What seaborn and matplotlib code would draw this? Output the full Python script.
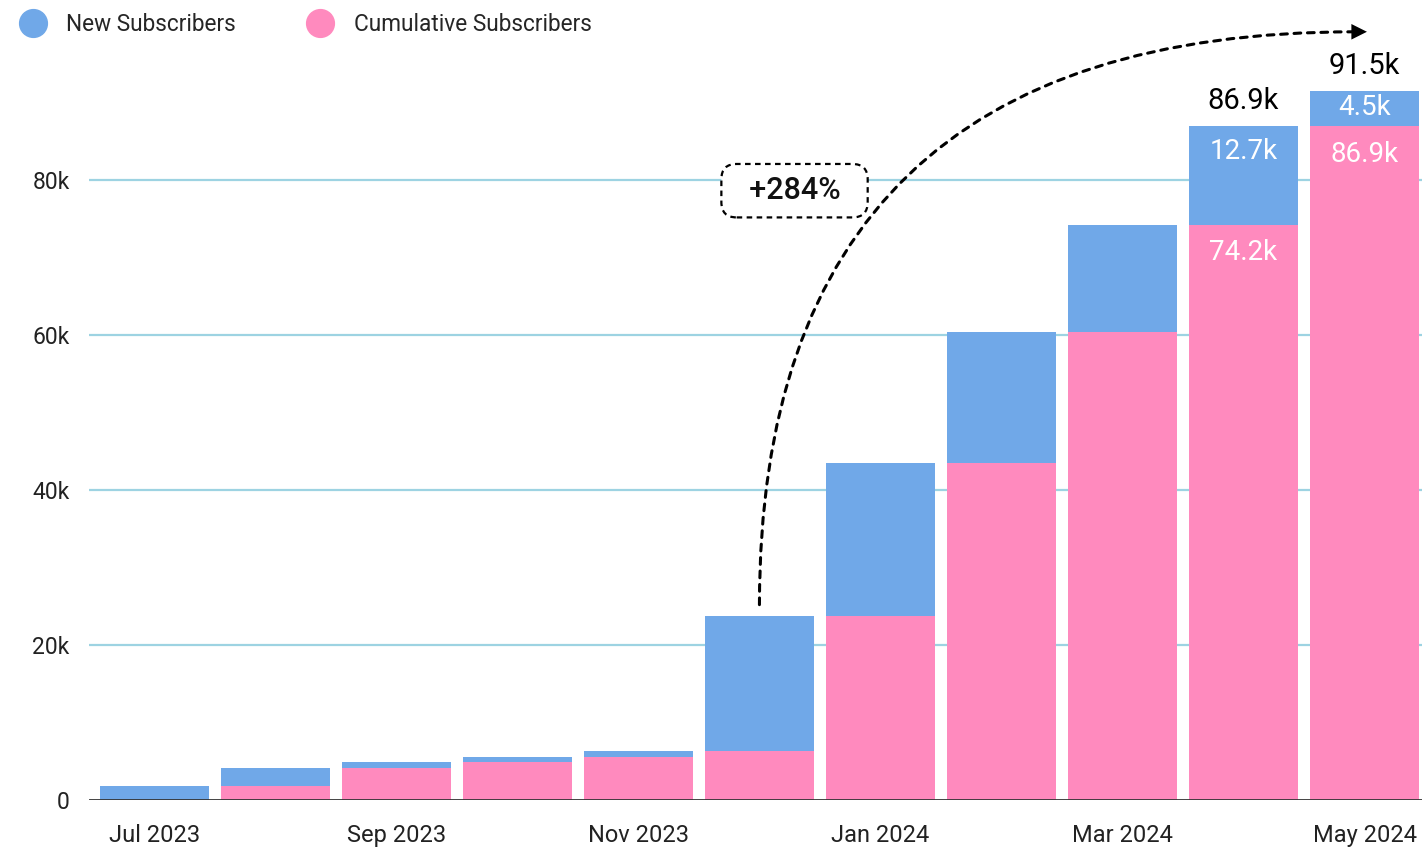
import matplotlib
matplotlib.use("Agg")
import matplotlib.pyplot as plt
import seaborn as sns
import pandas as pd
from matplotlib.lines import Line2D

# data (thousands of subscribers)
months = ["Jul 2023", "Aug 2023", "Sep 2023", "Oct 2023", "Nov 2023", "Dec 2023",
          "Jan 2024", "Feb 2024", "Mar 2024", "Apr 2024", "May 2024"]
cumulative = [0, 1.8, 4.1, 4.9, 5.5, 6.3, 23.7, 43.5, 60.4, 74.2, 86.9]
new_subs = [1.8, 2.3, 0.8, 0.6, 0.8, 17.4, 19.8, 16.9, 13.8, 12.7, 4.5]
total_labels = {9: "86.9k", 10: "91.5k"}
new_labels = {9: "12.7k", 10: "4.5k"}
cum_labels = {9: "74.2k", 10: "86.9k"}
growth_text = "+284%"

BLUE = "#70A8E8"
PINK = "#FF8ABE"
GRID = "#9DD3E2"

df = pd.DataFrame({"month": months, "cumulative": cumulative, "new": new_subs})
df["total"] = df["cumulative"] + df["new"]

sns.set_theme(style="white")
plt.rcParams["font.family"] = ["Roboto", "DejaVu Sans"]

fig = plt.figure(figsize=(14.22, 8.49), dpi=100)
ax = fig.add_axes([89 / 1422, 49 / 849, 1333 / 1422, 800 / 849])

# stacked bars: total in blue, cumulative in pink on top of it
sns.barplot(data=df, x="month", y="total", color=BLUE, width=0.9,
            saturation=1, linewidth=0, ax=ax, zorder=2)
sns.barplot(data=df, x="month", y="cumulative", color=PINK, width=0.9,
            saturation=1, linewidth=0, ax=ax, zorder=3)

ax.set_xlim(-0.54, 10.475)
ax.set_ylim(0, 103.2)
ax.set_yticks([0, 20, 40, 60, 80])
ax.set_yticklabels(["0", "20k", "40k", "60k", "80k"], fontsize=16.5, color="#222222")
ax.set_xticks(range(0, 11, 2))
ax.set_xticklabels([months[i] for i in range(0, 11, 2)], fontsize=17, color="#222222")
ax.tick_params(axis="both", length=0)
ax.tick_params(axis="x", pad=17)
ax.tick_params(axis="y", pad=14)
ax.set_xlabel("")
ax.set_ylabel("")
for s in ax.spines.values():
    s.set_visible(False)
for y in [20, 40, 60, 80]:
    ax.axhline(y, color=GRID, lw=1.6, zorder=1)
ax.axhline(0, color="#333333", lw=2, zorder=4)

# labels on the last two bars
for i, t in total_labels.items():
    ax.annotate(t, (i, df["total"][i]), xytext=(0, 18), textcoords="offset points",
                ha="center", va="center", fontsize=21, color="black", zorder=6)
for i, t in new_labels.items():
    if i == 10:
        ax.text(i, (df["cumulative"][i] + df["total"][i]) / 2 + 0.2, t, ha="center",
                va="center", fontsize=20, color="white", zorder=6)
    else:
        ax.annotate(t, (i, df["total"][i]), xytext=(0, -18), textcoords="offset points",
                    ha="center", va="center", fontsize=20, color="white", zorder=6)
for i, t in cum_labels.items():
    ax.annotate(t, (i, df["cumulative"][i]), xytext=(0, -20), textcoords="offset points",
                ha="center", va="center", fontsize=20, color="white", zorder=6)

# growth arrow from Dec bar to May bar
start = (5, 25.2)
end = (10, 99.1)
ax.annotate("", xy=(end[0] - 0.08, end[1]), xytext=start,
            arrowprops=dict(arrowstyle="-", connectionstyle="angle3,angleA=90,angleB=0",
                            color="black", lw=2.2, linestyle=(0, (2.2, 2.2)),
                            shrinkA=0, shrinkB=0), zorder=7)
ax.annotate("", xy=(end[0] + 0.02, end[1]), xytext=(end[0] - 0.1, end[1]),
            arrowprops=dict(arrowstyle="-|>", mutation_scale=28, color="black", lw=0,
                            shrinkA=0, shrinkB=0), zorder=7)

ax.text(5.29, 78.6, "  " + growth_text + "  ", ha="center", va="center", fontsize=22,
        fontweight="medium", color="#111111", zorder=8,
        bbox=dict(boxstyle="round,pad=0.4,rounding_size=0.5", fc="white",
                  ec="black", lw=1.6, ls=(0, (2.5, 2))))

# legend
handles = [Line2D([0], [0], marker="o", ls="", markersize=20, markerfacecolor=BLUE,
                  markeredgecolor=BLUE, label="New Subscribers"),
           Line2D([0], [0], marker="o", ls="", markersize=20, markerfacecolor=PINK,
                  markeredgecolor=PINK, label="Cumulative Subscribers")]
fig.legend(handles=handles, loc="upper left", bbox_to_anchor=(-0.001, 1.009), ncol=2,
           frameon=False, fontsize=16.3, handlelength=1.2, handletextpad=0.9,
           columnspacing=3.1)

fig.savefig("out.png", dpi=100)
